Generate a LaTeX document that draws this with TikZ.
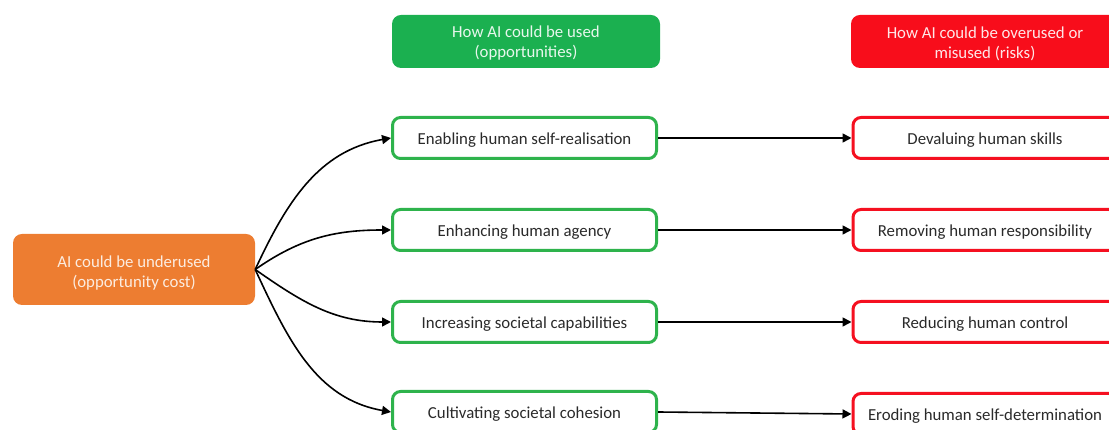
\documentclass[tikz,border=0pt]{standalone}
\usepackage{fontspec}
\setmainfont{Carlito}
\usetikzlibrary{arrows.meta}
\definecolor{cOrange}{HTML}{ED7D31}
\definecolor{cGreenF}{HTML}{1BB050}
\definecolor{cGreenL}{HTML}{2EB34C}
\definecolor{cRedF}{HTML}{F80D1B}
\definecolor{cRedL}{HTML}{F51020}
\definecolor{cTxt}{HTML}{2A2A2A}
\tikzset{
  every node/.style={font=\fontsize{16.8}{20}\selectfont, align=center, inner sep=0pt},
  filled/.style={rounded corners=9pt, minimum width=268pt, minimum height=53pt},
  onebox/.style={line width=3pt, rounded corners=8pt, fill=white, text=cTxt, minimum width=264pt, minimum height=41pt, text height=14.5pt, text depth=2.3pt},
  gbox/.style={onebox, draw=cGreenL},
  rbox/.style={onebox, draw=cRedL},
  conn/.style={-{Triangle[length=9pt,width=9pt]}, line width=1.6pt, black}
}
\begin{document}
\begin{tikzpicture}[x=1pt,y=1pt]
\useasboundingbox (0,0) rectangle (1109,430);
\node[filled, fill=cOrange, minimum width=242pt, minimum height=71pt,
  label={[text=white!85!cOrange, yshift=-4pt]center:AI could be underused\\(opportunity cost)}] (src) at (134,160.5) {};
\node[filled, fill=cGreenF,
  label={[text=white!90!cGreenF, yshift=-2pt]center:How AI could be used\\(opportunities)}] (hg) at (526,388.5) {};
\node[filled, fill=cRedF,
  label={[text=white!90!cRedF, yshift=-2pt]center:How AI could be overused or\\misused (risks)}] (hr) at (985,388.5) {};

\node[gbox] (g1) at (524.5,292) {Enabling human self-realisation};
\node[gbox] (g2) at (524.5,200) {Enhancing human agency};
\node[gbox] (g3) at (524.5,108) {Increasing societal capabilities};
\node[gbox] (g4) at (524.5,18) {Cultivating societal cohesion};

\node[rbox] (r1) at (985,292) {Devaluing human skills};
\node[rbox] (r2) at (985,200) {Removing human responsibility};
\node[rbox] (r3) at (985,108) {Reducing human control};
\node[rbox] (r4) at (985,16) {Eroding human self-determination};

\draw[conn] (src.east) to[out=65,in=190] (g1.west);
\draw[conn] (src.east) to[out=35,in=180] (g2.west);
\draw[conn] (src.east) to[out=-35,in=180] (g3.west);
\draw[conn] (src.east) to[out=-65,in=170] (g4.west);

\draw[conn] (g1.east) -- (r1.west);
\draw[conn] (g2.east) -- (r2.west);
\draw[conn] (g3.east) -- (r3.west);
\draw[conn] (g4.east) -- (r4.west);
\end{tikzpicture}
\end{document}
